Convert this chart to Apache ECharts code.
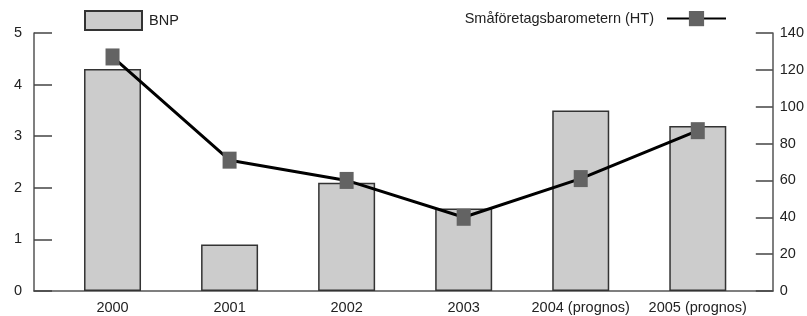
<!DOCTYPE html>
<html>
<head>
<meta charset="utf-8">
<script src="https://cdn.jsdelivr.net/npm/echarts@6/dist/echarts.min.js"></script>
<style>
  html, body { margin: 0; padding: 0; background: #fff; }
  #main { width: 807px; height: 316px; }
</style>
</head>
<body>
<div id="main"></div>
<script>
// chart data
const years = ['2000', '2001', '2002', '2003', '2004 (prognos)', '2005 (prognos)'];
const bnpValues = [4.3, 0.9, 2.1, 1.6, 3.5, 3.2];
const barometerValues = [127, 71, 60, 40, 61, 87];
const leftTicks = { min: 0, max: 5, interval: 1 };
const rightTicks = { min: 0, max: 140, interval: 20 };

const font = 'Liberation Sans';
const axisColor = '#555';
const fontSize = 14.5;

const option = {
    animation: false,
    textStyle: { fontFamily: font },
    legend: [{
        data: [{ name: 'BNP', icon: 'rect' }],
        left: 84,
        top: 10,
        padding: 0,
        itemWidth: 57,
        itemHeight: 19,
        textStyle: { fontSize: fontSize, color: '#222', padding: [0, 0, 0, 2] }
    }, {
        data: ['Småföretagsbarometern (HT)'],
        right: 80,
        top: 11,
        padding: 0,
        align: 'right',
        itemWidth: 59,
        itemHeight: 19,
        textStyle: { fontSize: fontSize, color: '#222', padding: [0, 8, 0, 0] }
    }],
    grid: [
        { left: 54, right: 50.5, top: 33, bottom: 25 },
        { left: 34, right: 34, top: 33, bottom: 25 }
    ],
    xAxis: [{
        type: 'category',
        gridIndex: 0,
        data: years,
        axisLine: { show: false },
        axisTick: { show: false },
        axisLabel: { fontSize: fontSize, color: '#222', margin: 9, interval: 0 }
    }, {
        // only draws the long bottom axis line
        type: 'value',
        gridIndex: 1,
        min: 0,
        max: 1,
        axisLine: { show: true, lineStyle: { color: axisColor, width: 1.5 } },
        axisTick: { show: false },
        axisLabel: { show: false },
        splitLine: { show: false }
    }],
    yAxis: [{
        type: 'value',
        gridIndex: 0,
        position: 'left',
        offset: 20,
        min: leftTicks.min,
        max: leftTicks.max,
        interval: leftTicks.interval,
        axisLine: { show: true, lineStyle: { color: axisColor, width: 1.5 } },
        axisTick: { show: true, inside: true, length: 18, lineStyle: { color: '#444', width: 1.5 } },
        axisLabel: { fontSize: fontSize, color: '#222', margin: 12 },
        splitLine: { show: false }
    }, {
        type: 'value',
        gridIndex: 0,
        position: 'right',
        offset: 16.5,
        min: rightTicks.min,
        max: rightTicks.max,
        interval: rightTicks.interval,
        axisLine: { show: true, lineStyle: { color: axisColor, width: 1.5 } },
        axisTick: { show: true, inside: true, length: 17, lineStyle: { color: '#444', width: 1.5 } },
        axisLabel: { fontSize: fontSize, color: '#222', margin: 7 },
        splitLine: { show: false }
    }, {
        type: 'value',
        gridIndex: 1,
        show: false
    }],
    series: [{
        name: 'BNP',
        type: 'bar',
        xAxisIndex: 0,
        yAxisIndex: 0,
        barWidth: 57,
        data: bnpValues,
        itemStyle: { color: '#cccccc', borderColor: '#333', borderWidth: 1.5 }
    }, {
        name: 'Småföretagsbarometern (HT)',
        type: 'line',
        xAxisIndex: 0,
        yAxisIndex: 1,
        data: barometerValues,
        symbol: 'rect',
        symbolSize: [14, 17],
        showAllSymbol: true,
        lineStyle: { color: '#000', width: 3 },
        itemStyle: { color: '#636363' },
        z: 3
    }]
};

const plot = echarts.init(document.querySelector('#main'), null, { renderer: 'canvas' });
plot.setOption(option);
</script>
</body>
</html>
